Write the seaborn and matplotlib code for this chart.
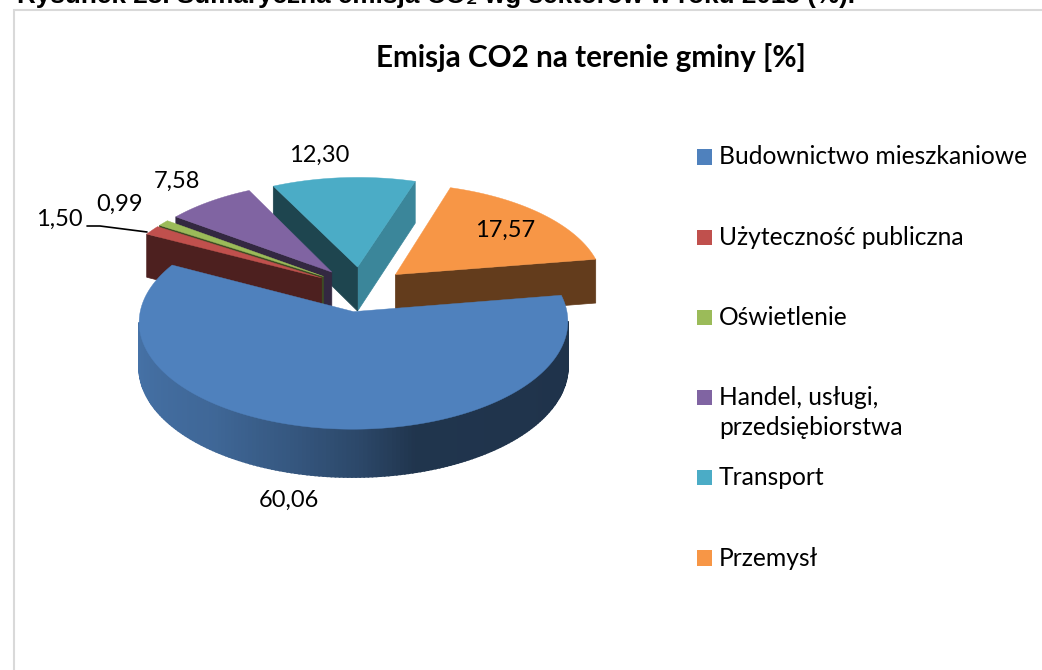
import numpy as np
import pandas as pd
import matplotlib
matplotlib.use("Agg")
import matplotlib.pyplot as plt
from matplotlib.colors import to_rgb
from matplotlib.patches import Polygon
import seaborn as sns

sectors = ["Budownictwo mieszkaniowe", "Użyteczność publiczna", "Oświetlenie",
           "Handel, usługi,\nprzedsiębiorstwa", "Transport", "Przemysł"]
values = [60.06, 1.50, 0.99, 7.58, 12.30, 17.57]
value_labels = ["60,06", "1,50", "0,99", "7,58", "12,30", "17,57"]
colors = ["#4F81BD", "#C0504D", "#9BBB59", "#8064A2", "#4BACC6", "#F79646"]
title = "Emisja CO2 na terenie gminy [%]"
caption = "Rysunek 23. Sumaryczna emisja CO\u2082 wg sektorów w roku 2013 (%)."

# pie projection, in pixels of the 1042x670 picture
cx, cy = 361, 289
rx, ry = 209, 102
persp = 0.094
explode = 0.22
depth = 44.5
start_angle = 9
draw_order = [4, 3, 2, 1, 5, 0]

sns.set_theme(style="white")
plt.rcParams['font.family'] = ['Lato', 'DejaVu Sans']

df = pd.DataFrame({'sector': sectors, 'value': values, 'pos': 0})


def project(X, Y):
    s = 1 / (1 + persp * Y)
    return cx + rx * X * s, cy - ry * Y * s, depth * s ** 0.6


def shaded(col, f):
    return tuple(c * f for c in to_rgb(col))


def outer_shade(a):
    # blue rim goes from lit on the left to dark on the right
    return np.interp(a % 360, [180, 233, 254, 272, 285, 360], [0.90, 0.80, 0.68, 0.55, 0.41, 0.39])


def draw_slice(ax, t1, t0, col, z):
    mid = np.radians((t0 + t1) / 2)
    ex, ey = explode * np.cos(mid), explode * np.sin(mid)
    ang = np.arange(t0, t1, 1.0)
    ang = np.append(ang, t1)
    Xs = np.concatenate([[ex], ex + np.cos(np.radians(ang))])
    Ys = np.concatenate([[ey], ey + np.sin(np.radians(ang))])
    sx, sy, d = project(Xs, Ys)
    n = len(sx)
    for i in range(n):
        j = (i + 1) % n
        if sx[j] - sx[i] <= 0:
            continue
        if i == 0:
            normal = np.radians(t0 - 90)
            f = 0.78 if np.cos(normal) > 0 and np.sin(normal) > -0.5 else 0.4
        elif j == 0:
            f = 0.4
        else:
            f = outer_shade(ang[i - 1])
        quad = [(sx[i], sy[i]), (sx[j], sy[j]), (sx[j], sy[j] + d[j]), (sx[i], sy[i] + d[i])]
        fc = shaded(col, f)
        ax.add_patch(Polygon(quad, closed=True, fc=fc, ec=fc, lw=1.2 if 0 < i and j > 0 else 0.5, zorder=z))
    ax.add_patch(Polygon(np.column_stack([sx, sy]), closed=True, fc=col, ec=col, lw=0.3, zorder=z + 0.5))


fig = plt.figure(figsize=(10.42, 6.70), dpi=100)
ax = fig.add_axes([0, 0, 1, 1])
ax.set_xlim(0, 1042)
ax.set_ylim(670, 0)
ax.axis('off')

# chart frame runs off the picture
ax.plot([14, 14, 1042], [670, 10, 10], color="#D9D9D9", lw=1.5, solid_joinstyle='miter', zorder=1)
ax.text(17, 3, caption, fontsize=18.8, fontweight='bold', family=['Liberation Sans', 'DejaVu Sans'],
        ha='left', va='baseline', color='black', clip_on=True)
ax.text(591, 58, title, fontsize=21.3, fontweight='bold', ha='center', va='center', color='black')

# slices run clockwise from the start angle
ends = start_angle - np.cumsum([0] + [v * 3.6 for v in values])
for z, i in enumerate(draw_order):
    draw_slice(ax, ends[i], ends[i + 1], colors[i], 2 + z)

label_xy = [(289, 500), (59, 219), (120, 204), (177, 181), (319, 155), (505, 230)]
for txt, (lx, ly) in zip(value_labels, label_xy):
    ax.text(lx, ly, txt, fontsize=17, ha='center', va='center', color='black', zorder=20)
ax.plot([87, 100, 147], [226, 226, 232], color='black', lw=1.2, zorder=20)

# legend: one square per sector on a categorical axis
ax_leg = fig.add_axes([704.5 / 1042, 1 - 558 / 670, 100 / 1042, 401 / 670])
sns.scatterplot(data=df, x='pos', y='sector', hue='sector', palette=colors, marker='s', s=117,
                linewidth=0, legend=False, clip_on=False, ax=ax_leg)
ax_leg.set_xlim(0, 1)
ax_leg.set_ylim(5, 0)
ax_leg.axis('off')
for i, name in enumerate(sectors):
    for k, line in enumerate(name.split("\n")):
        ax_leg.text(0.145, i + k * 0.374, line, fontsize=17.7, ha='left', va='center', color='black')

fig.savefig("out.png", dpi=100)
